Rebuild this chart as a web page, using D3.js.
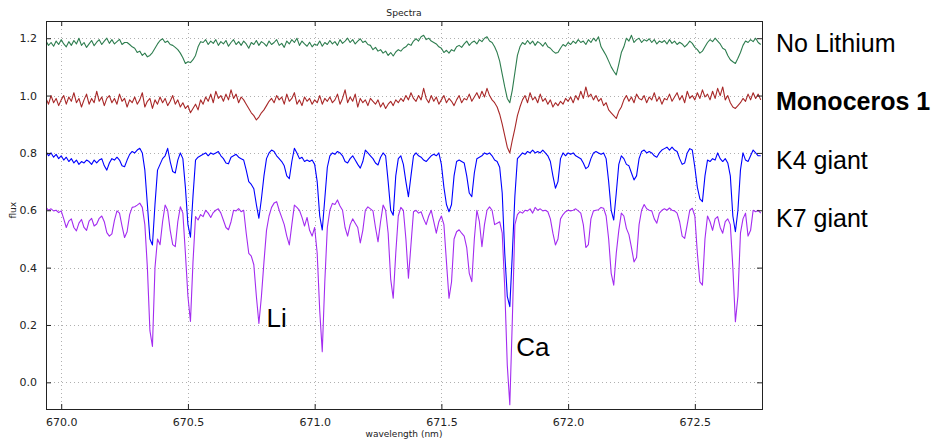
<!DOCTYPE html>
<html>
<head>
<meta charset="utf-8">
<script src="https://cdn.jsdelivr.net/npm/d3@7"></script>
<style>
    body { margin: 0; background: #ffffff; }
    svg  { display: block; }
</style>
</head>
<body>
<div id="graph"></div>
<script>

// The data...
// sampling grid of the spectra (nm)
var waveStart = 669.94;
var waveStep  = 0.01;

var xTicks = [ 670.0, 670.5, 671.0, 671.5, 672.0, 672.5 ];
var yTicks = [ 0.0, 0.2, 0.4, 0.6, 0.8, 1.0, 1.2 ];

var seriesNames = [ 'No Lithium', 'Monoceros 1', 'K4 giant', 'K7 giant' ];

// No Lithium (offset spectrum)
var noLiFlux = [
    1.190, 1.175, 1.185, 1.172, 1.190, 1.178, 1.195, 1.180, 1.170, 1.188,   // 669.94
    1.175, 1.192, 1.180, 1.200, 1.175, 1.185, 1.168, 1.180, 1.192, 1.174,   // 670.04
    1.186, 1.195, 1.178, 1.190, 1.200, 1.182, 1.195, 1.180, 1.188, 1.196,   // 670.14
    1.178, 1.185, 1.185, 1.178, 1.170, 1.165, 1.150, 1.155, 1.140, 1.148,   // 670.24
    1.135, 1.140, 1.150, 1.165, 1.180, 1.192, 1.198, 1.185, 1.190, 1.178,   // 670.34
    1.175, 1.168, 1.160, 1.148, 1.132, 1.112, 1.118, 1.115, 1.125, 1.140,   // 670.44
    1.170, 1.188, 1.185, 1.195, 1.178, 1.190, 1.182, 1.195, 1.175, 1.188,   // 670.54
    1.180, 1.192, 1.172, 1.185, 1.195, 1.178, 1.188, 1.175, 1.190, 1.180,   // 670.64
    1.165, 1.185, 1.178, 1.192, 1.175, 1.188, 1.182, 1.172, 1.190, 1.178,   // 670.74
    1.185, 1.195, 1.175, 1.182, 1.168, 1.190, 1.180, 1.195, 1.185, 1.200,   // 670.84
    1.175, 1.190, 1.180, 1.172, 1.186, 1.170, 1.180, 1.175, 1.190, 1.172,   // 670.94
    1.185, 1.178, 1.192, 1.180, 1.188, 1.175, 1.195, 1.182, 1.190, 1.200,   // 671.04
    1.185, 1.195, 1.180, 1.190, 1.198, 1.185, 1.190, 1.178, 1.175, 1.160,   // 671.14
    1.168, 1.155, 1.160, 1.148, 1.155, 1.140, 1.150, 1.138, 1.152, 1.160,   // 671.24
    1.155, 1.165, 1.170, 1.180, 1.175, 1.190, 1.198, 1.190, 1.205, 1.210,   // 671.34
    1.195, 1.200, 1.190, 1.185, 1.180, 1.170, 1.165, 1.150, 1.158, 1.148,   // 671.44
    1.160, 1.155, 1.170, 1.175, 1.168, 1.180, 1.190, 1.175, 1.185, 1.190,   // 671.54
    1.180, 1.195, 1.188, 1.200, 1.205, 1.190, 1.185, 1.170, 1.150, 1.120,   // 671.64
    1.075, 1.030, 0.990, 0.975, 1.020, 1.080, 1.140, 1.170, 1.185, 1.178,   // 671.74
    1.192, 1.180, 1.190, 1.175, 1.188, 1.182, 1.172, 1.185, 1.170, 1.165,   // 671.84
    1.155, 1.148, 1.150, 1.165, 1.178, 1.172, 1.185, 1.178, 1.190, 1.182,   // 671.94
    1.195, 1.185, 1.190, 1.178, 1.195, 1.185, 1.200, 1.190, 1.205, 1.170,   // 672.04
    1.155, 1.140, 1.120, 1.100, 1.085, 1.072, 1.110, 1.150, 1.170, 1.200,   // 672.14
    1.190, 1.210, 1.185, 1.195, 1.200, 1.185, 1.195, 1.190, 1.198, 1.185,   // 672.24
    1.195, 1.180, 1.190, 1.185, 1.192, 1.180, 1.195, 1.182, 1.190, 1.178,   // 672.34
    1.186, 1.180, 1.170, 1.178, 1.190, 1.182, 1.168, 1.160, 1.148, 1.155,   // 672.44
    1.170, 1.185, 1.195, 1.188, 1.200, 1.190, 1.180, 1.165, 1.160, 1.140,   // 672.54
    1.125, 1.118, 1.112, 1.130, 1.150, 1.175, 1.190, 1.185, 1.195, 1.188,   // 672.64
    1.200, 1.185, 1.178                                                     // 672.74
];

// Monoceros 1
var monFlux = [
    0.990, 0.970, 1.000, 0.975, 0.990, 0.965, 0.985, 1.000, 0.970, 0.995,   // 669.94
    0.980, 1.010, 0.975, 0.990, 0.960, 0.985, 1.005, 0.970, 0.990, 0.975,   // 670.04
    1.015, 0.980, 0.995, 0.965, 0.990, 1.000, 0.975, 0.990, 0.970, 1.005,   // 670.14
    0.980, 0.990, 0.960, 0.985, 0.975, 0.995, 0.970, 0.985, 1.010, 0.960,   // 670.24
    0.980, 0.990, 0.955, 0.985, 0.970, 0.995, 0.975, 0.990, 0.965, 0.980,   // 670.34
    1.000, 0.970, 0.985, 0.960, 0.975, 0.955, 0.965, 0.940, 0.955, 0.970,   // 670.44
    0.950, 0.985, 0.970, 0.995, 0.980, 1.005, 0.975, 1.015, 0.990, 1.000,   // 670.54
    0.980, 1.005, 0.985, 1.020, 0.990, 1.005, 0.975, 0.995, 0.985, 0.970,   // 670.64
    0.955, 0.940, 0.930, 0.915, 0.925, 0.940, 0.950, 0.965, 0.980, 0.990,   // 670.74
    0.975, 1.000, 0.985, 0.995, 0.970, 1.005, 0.980, 0.990, 1.010, 0.970,   // 670.84
    0.985, 0.965, 0.995, 0.980, 0.990, 0.970, 0.985, 0.975, 1.000, 0.970,   // 670.94
    0.990, 0.980, 0.995, 0.975, 0.985, 1.005, 0.970, 0.990, 1.020, 0.975,   // 671.04
    0.995, 0.980, 1.005, 0.960, 0.990, 0.975, 0.985, 0.965, 0.990, 0.980,   // 671.14
    0.970, 0.985, 0.960, 0.975, 0.955, 0.970, 0.980, 0.965, 0.985, 0.975,   // 671.24
    0.990, 0.980, 1.000, 0.985, 1.010, 0.990, 0.980, 1.000, 0.985, 1.025,   // 671.34
    0.990, 0.975, 1.000, 0.980, 0.995, 0.970, 0.985, 1.000, 0.975, 0.990,   // 671.44
    0.980, 0.965, 0.985, 1.000, 0.975, 0.990, 0.985, 1.005, 0.980, 0.995,   // 671.54
    1.010, 0.990, 1.015, 0.995, 1.025, 1.000, 0.985, 0.975, 0.960, 0.935,   // 671.64
    0.900, 0.860, 0.820, 0.800, 0.845, 0.885, 0.930, 0.960, 0.985, 1.000,   // 671.74
    0.975, 1.010, 0.985, 0.995, 0.975, 1.005, 0.980, 0.990, 0.970, 0.985,   // 671.84
    0.960, 0.975, 0.965, 0.980, 0.970, 0.990, 0.980, 0.995, 0.975, 1.000,   // 671.94
    0.985, 1.015, 0.990, 1.030, 0.995, 1.005, 0.985, 1.000, 0.980, 0.990,   // 672.04
    0.965, 0.975, 0.950, 0.940, 0.930, 0.920, 0.945, 0.960, 0.985, 1.000,   // 672.14
    0.980, 0.995, 0.975, 1.005, 0.990, 0.985, 1.000, 0.975, 0.995, 0.985,   // 672.24
    1.010, 0.980, 0.995, 0.970, 0.990, 0.985, 1.005, 0.980, 0.995, 1.010,   // 672.34
    0.985, 1.000, 0.975, 1.015, 0.990, 1.000, 0.985, 1.010, 0.990, 1.020,   // 672.44
    0.995, 1.005, 0.985, 1.015, 0.990, 1.025, 1.000, 1.030, 0.985, 1.000,   // 672.54
    0.975, 0.960, 0.955, 0.965, 0.975, 0.990, 0.980, 1.005, 0.985, 1.010,   // 672.64
    0.990, 1.005, 0.985                                                     // 672.74
];

// K4 giant
var k4Flux = [
    0.805, 0.790, 0.800, 0.785, 0.795, 0.780, 0.790, 0.775, 0.785, 0.770,   // 669.94
    0.780, 0.765, 0.775, 0.760, 0.770, 0.765, 0.775, 0.770, 0.760, 0.775,   // 670.04
    0.765, 0.775, 0.780, 0.755, 0.740, 0.765, 0.780, 0.775, 0.785, 0.775,   // 670.14
    0.755, 0.752, 0.775, 0.795, 0.805, 0.800, 0.810, 0.816, 0.800, 0.740,   // 670.24
    0.620, 0.500, 0.479, 0.620, 0.740, 0.760, 0.780, 0.790, 0.816, 0.770,   // 670.34
    0.735, 0.730, 0.775, 0.800, 0.780, 0.680, 0.550, 0.506, 0.650, 0.775,   // 670.44
    0.785, 0.790, 0.795, 0.800, 0.790, 0.800, 0.795, 0.800, 0.805, 0.790,   // 670.54
    0.780, 0.765, 0.762, 0.785, 0.790, 0.795, 0.785, 0.780, 0.775, 0.740,   // 670.64
    0.700, 0.690, 0.675, 0.620, 0.572, 0.640, 0.720, 0.780, 0.800, 0.810,   // 670.74
    0.805, 0.790, 0.780, 0.770, 0.755, 0.720, 0.710, 0.770, 0.816, 0.800,   // 670.84
    0.780, 0.785, 0.770, 0.775, 0.770, 0.775, 0.760, 0.700, 0.580, 0.531,   // 670.94
    0.640, 0.750, 0.790, 0.800, 0.795, 0.805, 0.800, 0.790, 0.770, 0.765,   // 671.04
    0.780, 0.790, 0.775, 0.760, 0.747, 0.770, 0.810, 0.800, 0.790, 0.780,   // 671.14
    0.765, 0.758, 0.785, 0.800, 0.790, 0.700, 0.600, 0.583, 0.720, 0.780,   // 671.24
    0.790, 0.760, 0.700, 0.647, 0.720, 0.790, 0.800, 0.790, 0.785, 0.775,   // 671.34
    0.770, 0.780, 0.790, 0.795, 0.790, 0.800, 0.760, 0.680, 0.620, 0.595,   // 671.44
    0.620, 0.720, 0.770, 0.775, 0.770, 0.765, 0.720, 0.660, 0.647, 0.730,   // 671.54
    0.780, 0.785, 0.790, 0.800, 0.795, 0.800, 0.790, 0.775, 0.770, 0.750,   // 671.64
    0.660, 0.450, 0.300, 0.264, 0.450, 0.650, 0.780, 0.790, 0.800, 0.795,   // 671.74
    0.805, 0.800, 0.810, 0.800, 0.805, 0.800, 0.810, 0.800, 0.790, 0.770,   // 671.84
    0.720, 0.677, 0.700, 0.780, 0.800, 0.790, 0.800, 0.795, 0.800, 0.790,   // 671.94
    0.785, 0.780, 0.765, 0.745, 0.752, 0.780, 0.800, 0.805, 0.800, 0.795,   // 672.04
    0.800, 0.780, 0.700, 0.600, 0.566, 0.660, 0.760, 0.790, 0.780, 0.760,   // 672.14
    0.755, 0.730, 0.706, 0.720, 0.780, 0.805, 0.810, 0.800, 0.805, 0.800,   // 672.24
    0.790, 0.785, 0.800, 0.810, 0.815, 0.820, 0.810, 0.820, 0.810, 0.805,   // 672.34
    0.780, 0.760, 0.765, 0.800, 0.815, 0.810, 0.750, 0.680, 0.640, 0.630,   // 672.44
    0.720, 0.775, 0.770, 0.780, 0.775, 0.800, 0.780, 0.770, 0.780, 0.765,   // 672.54
    0.720, 0.580, 0.525, 0.600, 0.740, 0.800, 0.775, 0.770, 0.790, 0.810,   // 672.64
    0.800, 0.790, 0.790                                                     // 672.74
];

// K7 giant
var k7Flux = [
    0.610, 0.600, 0.605, 0.598, 0.600, 0.592, 0.598, 0.570, 0.540, 0.562,   // 669.94
    0.570, 0.540, 0.528, 0.555, 0.568, 0.540, 0.530, 0.562, 0.572, 0.545,   // 670.04
    0.552, 0.572, 0.580, 0.560, 0.522, 0.510, 0.518, 0.565, 0.598, 0.590,   // 670.14
    0.545, 0.505, 0.525, 0.585, 0.610, 0.612, 0.618, 0.625, 0.610, 0.550,   // 670.24
    0.400, 0.180, 0.125, 0.400, 0.500, 0.480, 0.560, 0.618, 0.600, 0.530,   // 670.34
    0.480, 0.473, 0.560, 0.612, 0.590, 0.450, 0.300, 0.212, 0.420, 0.578,   // 670.44
    0.566, 0.585, 0.578, 0.600, 0.590, 0.575, 0.592, 0.600, 0.605, 0.590,   // 670.54
    0.565, 0.540, 0.532, 0.560, 0.600, 0.598, 0.606, 0.595, 0.600, 0.520,   // 670.64
    0.450, 0.440, 0.410, 0.300, 0.205, 0.300, 0.420, 0.530, 0.580, 0.610,   // 670.74
    0.625, 0.630, 0.600, 0.575, 0.550, 0.510, 0.479, 0.550, 0.618, 0.610,   // 670.84
    0.600, 0.575, 0.545, 0.575, 0.530, 0.510, 0.540, 0.450, 0.250, 0.107,   // 670.94
    0.350, 0.540, 0.600, 0.624, 0.620, 0.636, 0.615, 0.600, 0.540, 0.510,   // 671.04
    0.550, 0.570, 0.555, 0.540, 0.486, 0.530, 0.600, 0.612, 0.605, 0.598,   // 671.14
    0.540, 0.490, 0.560, 0.618, 0.600, 0.520, 0.360, 0.293, 0.450, 0.580,   // 671.24
    0.610, 0.600, 0.500, 0.363, 0.480, 0.595, 0.600, 0.590, 0.595, 0.570,   // 671.34
    0.550, 0.580, 0.600, 0.560, 0.520, 0.560, 0.580, 0.550, 0.420, 0.293,   // 671.44
    0.350, 0.500, 0.525, 0.532, 0.520, 0.510, 0.470, 0.380, 0.351, 0.500,   // 671.54
    0.600, 0.560, 0.473, 0.550, 0.600, 0.612, 0.600, 0.550, 0.555, 0.560,   // 671.64
    0.520, 0.330, 0.060, -0.078, 0.220, 0.550, 0.585, 0.595, 0.590, 0.600,  // 671.74
    0.598, 0.605, 0.590, 0.610, 0.600, 0.605, 0.598, 0.600, 0.595, 0.570,   // 671.84
    0.520, 0.479, 0.500, 0.570, 0.585, 0.595, 0.600, 0.598, 0.600, 0.605,   // 671.94
    0.598, 0.590, 0.550, 0.470, 0.480, 0.570, 0.598, 0.600, 0.602, 0.610,   // 672.04
    0.607, 0.580, 0.500, 0.380, 0.339, 0.450, 0.530, 0.590, 0.580, 0.537,   // 672.14
    0.515, 0.470, 0.420, 0.435, 0.550, 0.600, 0.620, 0.605, 0.600, 0.598,   // 672.24
    0.570, 0.555, 0.590, 0.600, 0.605, 0.600, 0.608, 0.600, 0.598, 0.590,   // 672.34
    0.560, 0.510, 0.502, 0.550, 0.600, 0.607, 0.580, 0.450, 0.350, 0.339,   // 672.44
    0.500, 0.580, 0.560, 0.530, 0.570, 0.578, 0.540, 0.520, 0.560, 0.570,   // 672.54
    0.550, 0.400, 0.211, 0.300, 0.520, 0.570, 0.590, 0.510, 0.530, 0.600,   // 672.64
    0.595, 0.600, 0.590                                                     // 672.74
];

// Line annotations
var annotNames = [ 'Li', 'Ca' ];
var annotWave  = [ 670.81, 671.795 ];
var annotFlux  = [ 0.192, 0.092 ];

var seriesFlux   = [ noLiFlux, monFlux, k4Flux, k7Flux ];
var seriesColour = [ '#2e7d4f', '#a82828', '#0000ff', '#a32cf0' ];


// SVG size and plot box
var svgWidth  = 935;
var svgHeight = 439;

var margin = {
        top:    21,
        right:  173,
        bottom: 30,
        left:   46
};

var width  = svgWidth - margin.left - margin.right;
var height = svgHeight - margin.top - margin.bottom;

var xScale = d3.scaleLinear ()
               .domain ( [ 669.94, 672.765 ] )
               .range ( [ 0, width ] );

var yScale = d3.scaleLinear ()
               .domain ( [ -0.093, 1.26 ] )
               .range ( [ height, 0 ] );

var svg = d3.select ('#graph').append ('svg')
            .attr ('width', svgWidth)
            .attr ('height', svgHeight);

var plot = svg.append ('g')
              .attr ('transform', 'translate(' + margin.left + ',' + margin.top + ')');

// Grid lines (dotted)
plot.append ('g')
    .selectAll ('line')
    .data (xTicks)
    .enter ()
    .append ('line')
    .attr ('x1', function (d) { return Math.round (xScale (d)) + 0.5; })
    .attr ('x2', function (d) { return Math.round (xScale (d)) + 0.5; })
    .attr ('y1', 0)
    .attr ('y2', height)
    .attr ('stroke', '#b0b0b0')
    .attr ('stroke-dasharray', '1,3');

plot.append ('g')
    .selectAll ('line')
    .data (yTicks)
    .enter ()
    .append ('line')
    .attr ('x1', 0)
    .attr ('x2', width)
    .attr ('y1', function (d) { return Math.round (yScale (d)) + 0.5; })
    .attr ('y2', function (d) { return Math.round (yScale (d)) + 0.5; })
    .attr ('stroke', '#b0b0b0')
    .attr ('stroke-dasharray', '1,3');

// The spectra
var line = d3.line ()
             .x (function (d, i) { return xScale (waveStart + i * waveStep); })
             .y (function (d) { return yScale (d); });

plot.append ('clipPath')
    .attr ('id', 'plotClip')
    .append ('rect')
    .attr ('width', width)
    .attr ('height', height);

var lines = plot.append ('g').attr ('clip-path', 'url(#plotClip)');

for (var s = 0; s < seriesFlux.length; s++)
{
    lines.append ('path')
         .datum (seriesFlux[s])
         .attr ('d', line)
         .attr ('fill', 'none')
         .attr ('stroke', seriesColour[s])
         .attr ('stroke-width', 1.1)
         .attr ('stroke-linejoin', 'round');
}

// Axes, ticks pointing inwards
var xAxis = d3.axisBottom (xScale)
              .tickValues (xTicks)
              .tickFormat (d3.format ('.1f'))
              .tickSizeInner (-5)
              .tickSizeOuter (0)
              .tickPadding (9);

var yAxis = d3.axisLeft (yScale)
              .tickValues (yTicks)
              .tickFormat (d3.format ('.1f'))
              .tickSizeInner (-5)
              .tickSizeOuter (0)
              .tickPadding (9);

plot.append ('g')
    .attr ('class', 'axis')
    .attr ('transform', 'translate(0,' + height + ')')
    .call (xAxis);

plot.append ('g')
    .attr ('class', 'axis')
    .call (yAxis);

// top and right ticks
plot.append ('g')
    .attr ('class', 'axis')
    .call (d3.axisTop (xScale).tickValues (xTicks).tickSizeInner (-5).tickSizeOuter (0).tickFormat (''));

plot.append ('g')
    .attr ('class', 'axis')
    .attr ('transform', 'translate(' + width + ',0)')
    .call (d3.axisRight (yScale).tickValues (yTicks).tickSizeInner (-5).tickSizeOuter (0).tickFormat (''));

plot.selectAll ('.axis path.domain').remove ();
plot.selectAll ('.axis line').attr ('stroke', '#222');
plot.selectAll ('.axis text')
    .attr ('font-family', 'DejaVu Sans, sans-serif')
    .attr ('font-size', '11px')
    .attr ('fill', '#222');

// Frame
plot.append ('rect')
    .attr ('x', 0.5)
    .attr ('y', 0.5)
    .attr ('width', width)
    .attr ('height', height)
    .attr ('fill', 'none')
    .attr ('stroke', '#222')
    .attr ('stroke-width', 1);

// Title and axis labels
svg.append ('text')
   .attr ('x', margin.left + width / 2)
   .attr ('y', 16)
   .attr ('text-anchor', 'middle')
   .attr ('font-family', 'DejaVu Sans, sans-serif')
   .attr ('font-size', '9.2px')
   .attr ('fill', '#222')
   .text ('Spectra');

svg.append ('text')
   .attr ('x', margin.left + width / 2)
   .attr ('y', 437)
   .attr ('text-anchor', 'middle')
   .attr ('font-family', 'DejaVu Sans, sans-serif')
   .attr ('font-size', '9px')
   .attr ('fill', '#222')
   .text ('wavelength (nm)');

svg.append ('text')
   .attr ('transform', 'translate(16,' + (margin.top + yScale (0.6)) + ') rotate(-90)')
   .attr ('text-anchor', 'middle')
   .attr ('font-family', 'DejaVu Sans, sans-serif')
   .attr ('font-size', '9px')
   .attr ('fill', '#222')
   .text ('flux');

// Line labels inside the plot
for (var a = 0; a < annotNames.length; a++)
{
    plot.append ('text')
        .attr ('x', xScale (annotWave[a]))
        .attr ('y', yScale (annotFlux[a]))
        .attr ('font-family', 'Liberation Sans, Arial, sans-serif')
        .attr ('font-size', '26px')
        .attr ('fill', '#000')
        .text (annotNames[a]);
}

// Series names on the right, one per spectrum
var legendBase = [ 52, 110, 168.5, 227 ];

for (var s = 0; s < seriesNames.length; s++)
{
    svg.append ('text')
       .attr ('x', 776)
       .attr ('y', legendBase[s])
       .attr ('font-family', 'Liberation Sans, Arial, sans-serif')
       .attr ('font-size', '25px')
       .attr ('font-weight', s == 1 ? 'bold' : 'normal')
       .attr ('fill', '#000')
       .text (seriesNames[s]);
}

</script>
</body>
</html>
